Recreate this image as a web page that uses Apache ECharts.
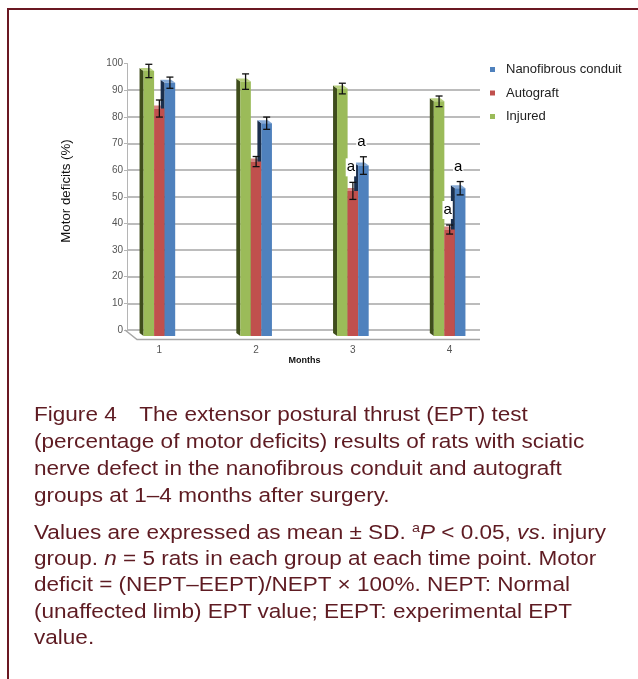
<!DOCTYPE html>
<html>
<head>
<meta charset="utf-8">
<script src="https://cdn.jsdelivr.net/npm/echarts@6/dist/echarts.min.js"></script>
<style>
  html, body { margin: 0; padding: 0; background: #fff; }
  #wrap { position: relative; width: 638px; height: 679px; overflow: hidden; background: #fff; }
  #frame { position: absolute; left: 7px; top: 8px; width: 700px; height: 700px;
           border-left: 2.5px solid #6a1822; border-top: 2.5px solid #6a1822; box-sizing: border-box; }
  #chart { position: absolute; left: 0; top: 0; width: 638px; height: 679px; }
  .cap { position: absolute; left: 34px; font-family: "Liberation Sans", Arial, sans-serif;
         font-size: 20.5px; color: #5e1b22; white-space: nowrap;
         transform: scaleX(1.1); transform-origin: 0 0; }
  #cap1 { top: 400px; line-height: 27px; }
  #cap2 { top: 518.5px; line-height: 26.4px; }
  .cap sup { font-size: 13px; vertical-align: 7px; line-height: 0; }
</style>
</head>
<body>
<div id="wrap">
  <div id="frame"></div>
  <div id="chart"></div>
  <div class="cap" id="cap1">Figure 4&emsp;The extensor postural thrust (EPT) test<br>(percentage of motor deficits) results of rats with sciatic<br>nerve defect in the nanofibrous conduit and autograft<br>groups at 1–4 months after surgery.</div>
  <div class="cap" id="cap2">Values are expressed as mean ± SD. <sup>a</sup><i>P</i> &lt; 0.05, <i>vs</i>. injury<br>group. <i>n</i> = 5 rats in each group at each time point. Motor<br>deficit = (NEPT–EEPT)/NEPT × 100%. NEPT: Normal<br>(unaffected limb) EPT value; EEPT: experimental EPT<br>value.</div>
</div>
<script>
// Months after surgery
const months = ['1', '2', '3', '4'];

// Motor deficit (%) means and SDs per group
const injured = [97.2, 93.2, 90.6, 85.8];
const injuredSD = [2.5, 2.9, 2.0, 2.0];
const autograft = [83.1, 63.2, 52.2, 37.7];
const autograftSD = [3.2, 1.9, 3.2, 1.7];
const nanofibrous = [92.8, 77.6, 61.7, 53.2];
const nanofibrousSD = [2.1, 2.3, 3.3, 2.5];

// P < 0.05 vs. injury group
const autograftSig = [false, false, true, true];
const nanofibrousSig = [false, false, true, true];

const groups = [
  { name: 'Injured', values: injured, sd: injuredSD, sig: null,
    front: '#9bbb59', side: '#3f4d1c', top: '#b9d280' },
  { name: 'Autograft', values: autograft, sd: autograftSD, sig: autograftSig,
    front: '#c0504d', side: '#6e2624', top: '#d98683' },
  { name: 'Nanofibrous conduit', values: nanofibrous, sd: nanofibrousSD, sig: nanofibrousSig,
    front: '#4f81bd', side: '#1b2f4d', top: '#86aad6' }
];

// 3D column geometry (pixels)
const DEPTH_X = 4, DEPTH_Y = 3, FLOOR_DROP = 6;

function barBox(api, gi) {
  const cat = api.value(0), v = api.value(1);
  const band = api.size([1, 0])[0];
  const w = band * 0.109;
  const center = api.coord([cat, 0])[0];
  const x0 = center - 1.5 * w + gi * w;
  const yTop = api.coord([cat, v])[1];
  const yBase = api.coord([cat, 0])[1] + FLOOR_DROP;
  return { x0, x1: x0 + w, yTop, yBase, w };
}

// side and top faces, drawn beneath every front face
function backLayer(gi) {
  const g = groups[gi];
  return function (params, api) {
    const b = barBox(api, gi);
    return {
      type: 'group',
      children: [
        { type: 'polygon', shape: { points: [[b.x0, b.yTop], [b.x0, b.yBase], [b.x0 - DEPTH_X, b.yBase - DEPTH_Y], [b.x0 - DEPTH_X, b.yTop - DEPTH_Y]] },
          style: { fill: g.side } },
        { type: 'polygon', shape: { points: [[b.x0, b.yTop], [b.x1, b.yTop], [b.x1 - DEPTH_X, b.yTop - DEPTH_Y], [b.x0 - DEPTH_X, b.yTop - DEPTH_Y]] },
          style: { fill: g.top } }
      ]
    };
  };
}

function frontLayer(gi) {
  const g = groups[gi];
  return function (params, api) {
    const b = barBox(api, gi);
    return { type: 'rect', shape: { x: b.x0, y: b.yTop, width: b.w, height: b.yBase - b.yTop },
             style: { fill: g.front } };
  };
}

// mean ± SD whiskers, plus the significance letter
function errorLayer(gi) {
  return function (params, api) {
    const cat = api.value(0), v = api.value(1), sd = api.value(2), sig = api.value(3);
    const b = barBox(api, gi);
    const cx = (b.x0 + b.x1) / 2;
    const yHi = api.coord([cat, v + sd])[1];
    const yLo = api.coord([cat, v - sd])[1];
    const cap = 3.5;
    const st = { stroke: '#111', lineWidth: 1.3 };
    const children = [
      { type: 'line', shape: { x1: cx, y1: yHi, x2: cx, y2: yLo }, style: st },
      { type: 'line', shape: { x1: cx - cap, y1: yHi, x2: cx + cap, y2: yHi }, style: st },
      { type: 'line', shape: { x1: cx - cap, y1: yLo, x2: cx + cap, y2: yLo }, style: st }
    ];
    if (sig) {
      children.push({
        type: 'text',
        style: { text: 'a', x: cx - 2, y: yHi - 15, align: 'center', verticalAlign: 'middle',
                 font: '15px "Liberation Sans", Arial, sans-serif', fill: '#000',
                 backgroundColor: '#fff', padding: [1, 1, 2, 1] }
      });
    }
    return { type: 'group', children };
  };
}

const series = [];
groups.forEach((g, gi) => {
  series.push({
    type: 'custom', xAxisIndex: 1, yAxisIndex: 1, z: 2, silent: true,
    renderItem: backLayer(gi),
    data: g.values.map((v, i) => [i, v])
  });
});
groups.forEach((g, gi) => {
  series.push({
    type: 'custom', name: g.name, xAxisIndex: 1, yAxisIndex: 1, z: 3,
    itemStyle: { color: g.front },
    renderItem: frontLayer(gi),
    data: g.values.map((v, i) => [i, v])
  });
});
groups.forEach((g, gi) => {
  series.push({
    type: 'custom', xAxisIndex: 1, yAxisIndex: 1, z: 4, silent: true,
    renderItem: errorLayer(gi),
    data: g.values.map((v, i) => [i, v, g.sd[i], g.sig && g.sig[i] ? 1 : 0])
  });
});

const chart = echarts.init(document.getElementById('chart'), null, { renderer: 'canvas' });
chart.setOption({
  animation: false,
  backgroundColor: 'transparent',
  textStyle: { fontFamily: '"Liberation Sans", Arial, sans-serif' },
  grid: [
    { left: 127, right: 158, top: 63.5, bottom: 349 },
    { left: 111, right: 140, top: 63.5, bottom: 349 }
  ],
  xAxis: [
    { gridIndex: 0, type: 'value', min: 0, max: 1, show: false },
    { gridIndex: 1, type: 'category', data: months, offset: 9,
      axisLine: { show: false },
      axisTick: { show: true, alignWithLabel: true, length: 5, lineStyle: { color: '#888', width: 1 } },
      axisLabel: { fontSize: 10, color: '#555', margin: 6 },
      name: 'Months', nameLocation: 'middle', nameGap: 15,
      nameTextStyle: { fontSize: 9, fontWeight: 'bold', color: '#111' } }
  ],
  yAxis: [
    { gridIndex: 0, type: 'value', min: 0, max: 100, interval: 10,
      axisLine: { show: true, lineStyle: { color: '#b5b5b5', width: 1 } },
      axisTick: { show: true, length: 3, lineStyle: { color: '#b5b5b5' } },
      axisLabel: { fontSize: 10, color: '#555', margin: 4 },
      splitLine: { show: true, showMaxLine: false, lineStyle: { color: '#a6a6a6', width: 1.7 } } },
    { gridIndex: 1, type: 'value', min: 0, max: 100, show: false, splitLine: { show: false } }
  ],
  legend: {
    orient: 'vertical', left: 485, top: 58,
    data: ['Nanofibrous conduit', 'Autograft', 'Injured'],
    icon: 'rect', itemWidth: 5, itemHeight: 5, itemGap: 10.5,
    textStyle: { fontSize: 13, color: '#222', padding: [0, 0, 0, 6] },
    selectedMode: false
  },
  graphic: [
    { type: 'polyline', silent: true, z: 1,
      shape: { points: [[125, 330], [137, 339.5], [480, 339.5]] },
      style: { stroke: '#a6a6a6', lineWidth: 1.5, fill: null } },
    { type: 'text', silent: true, x: 66.5, y: 191, rotation: Math.PI / 2,
      style: { text: 'Motor deficits (%)', align: 'center', verticalAlign: 'middle',
               font: '13.3px "Liberation Sans", Arial, sans-serif', fill: '#111' } }
  ],
  series
});
</script>
</body>
</html>
